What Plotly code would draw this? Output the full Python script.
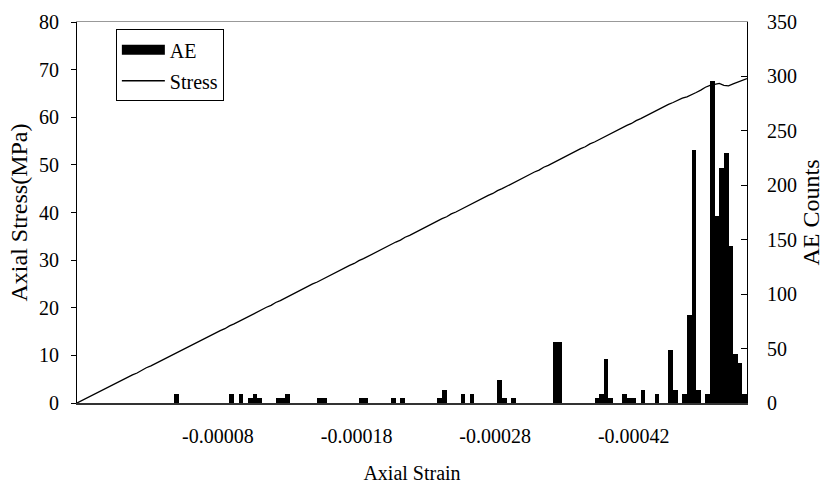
import plotly.graph_objects as go

# ---------------- data ----------------
# Stress curve (MPa), one value per recorded point along the strain axis
stress_mpa = [
    0.0, 0.5, 1.0, 1.5, 2.0, 2.4, 2.9, 3.5, 3.9, 4.4,
    4.9, 5.4, 5.9, 6.3, 6.9, 7.4, 7.8, 8.3, 8.8, 9.3,
    9.8, 10.3, 10.8, 11.2, 11.7, 12.3, 12.7, 13.2, 13.7, 14.2,
    14.7, 15.2, 15.6, 16.2, 16.6, 17.1, 17.7, 18.1, 18.6, 19.1,
    19.6, 20.1, 20.5, 21.1, 21.5, 22.0, 22.6, 23.0, 23.5, 24.0,
    24.5, 25.0, 25.4, 25.9, 26.5, 26.9, 27.4, 27.9, 28.4, 28.9,
    29.3, 29.9, 30.3, 30.8, 31.4, 31.8, 32.3, 32.8, 33.3, 33.8,
    34.2, 34.8, 35.2, 35.7, 36.3, 36.7, 37.2, 37.7, 38.2, 38.7,
    39.1, 39.7, 40.1, 40.6, 41.2, 41.6, 42.1, 42.6, 43.1, 43.6,
    44.0, 44.6, 45.0, 45.5, 46.1, 46.5, 47.0, 47.5, 48.0, 48.5,
    48.9, 49.5, 49.9, 50.4, 51.0, 51.4, 51.9, 52.4, 52.9, 53.4,
    53.8, 54.4, 54.8, 55.3, 55.9, 56.3, 56.8, 57.3, 57.8, 58.3,
    58.7, 59.3, 59.7, 60.2, 60.8, 61.2, 61.7, 62.3, 62.7, 63.1,
    63.6, 64.0, 64.3, 64.7, 65.2, 65.7, 66.3, 66.7, 66.9, 67.1,
    66.7, 66.6, 67.0, 67.4, 67.8, 68.1,
]
stress_point = list(range(len(stress_mpa)))

# AE counts: category index (of 145 strain categories) and counts
n_categories = 145
ae_category = [21, 33, 35, 37, 38, 39, 43, 44, 45, 52, 53, 61, 62, 68, 70,
               78, 79, 83, 85, 91, 92, 94, 103, 104, 112, 113, 114, 115,
               118, 119, 120, 122, 125, 128, 129, 131, 132, 133, 134,
               136, 137, 138, 139, 140, 141, 142, 143, 144]
ae_counts = [8, 8, 8, 5, 8, 5, 5, 5, 8, 5, 5, 5, 5, 5, 5,
             5, 12, 8, 8, 21, 5, 5, 56, 56, 5, 8, 40, 5,
             8, 5, 5, 12, 8, 49, 12, 8, 81, 232, 12,
             8, 296, 172, 216, 230, 144, 45, 37, 8]

# strain tick labels and the categories where they sit
strain_tick_pos = [30, 60, 90, 120]
strain_tick_text = ["-0.00008", "-0.00018", "-0.00028", "-0.00042"]

FONT = "Liberation Serif"

fig = go.Figure()

fig.add_trace(go.Bar(
    x=ae_category, y=ae_counts, xaxis="x", yaxis="y2",
    marker=dict(color="black", line=dict(width=0)),
    showlegend=False, name="AE",
))
fig.add_trace(go.Scatter(
    x=stress_point, y=stress_mpa, xaxis="x2", yaxis="y",
    mode="lines", line=dict(color="black", width=1.3),
    showlegend=False, name="Stress",
))
# legend entries
fig.add_trace(go.Scatter(
    x=[None], y=[None], mode="lines", name="AE",
    line=dict(color="black", width=12), legendgroup="a",
))
fig.add_trace(go.Scatter(
    x=[None], y=[None], mode="lines", name="Stress",
    line=dict(color="black", width=1.3), legendgroup="b",
))

fig.update_layout(
    width=824, height=484,
    margin=dict(l=77, r=77, t=22, b=81, autoexpand=False),
    paper_bgcolor="white", plot_bgcolor="white",
    font=dict(family=FONT, size=20, color="black"),
    bargap=0,
    xaxis=dict(
        range=[-0.5, n_categories - 0.5], automargin=False,
        tickmode="array", tickvals=strain_tick_pos, ticktext=strain_tick_text,
        ticks="", showgrid=False, zeroline=False,
        showline=True, linecolor="#333333", linewidth=1.5,
        ticklabelstandoff=14,
        title=dict(text="Axial Strain", standoff=24, font=dict(size=20)),
    ),
    xaxis2=dict(
        overlaying="x", side="top", anchor="y", automargin=False,
        range=[0, len(stress_mpa) - 1],
        showticklabels=False, ticks="", showgrid=False, zeroline=False,
        showline=True, linecolor="#999999", linewidth=1,
    ),
    yaxis=dict(
        range=[0, 80], dtick=10, ticks="outside", ticklen=5, automargin=False,
        tickcolor="black", showline=True, linecolor="black", linewidth=1.2,
        showgrid=False, zeroline=False, ticklabelstandoff=8,
        title=dict(text="Axial Stress(MPa)", standoff=4),
    ),
    yaxis2=dict(
        overlaying="y", side="right", anchor="x", automargin=False,
        range=[0, 350], dtick=50, ticks="inside", ticklen=6,
        tickcolor="black", showline=True, linecolor="black", linewidth=1.2,
        showgrid=False, zeroline=False, ticklabelstandoff=15,
        title=dict(text="AE Counts", standoff=12),
    ),
    legend=dict(
        x=0.058, y=0.981, xanchor="left", yanchor="top",
        bordercolor="black", borderwidth=1, bgcolor="white",
        font=dict(size=20), itemwidth=43,
        traceorder="grouped", tracegroupgap=2,
    ),
)

fig.write_html("out.html")
